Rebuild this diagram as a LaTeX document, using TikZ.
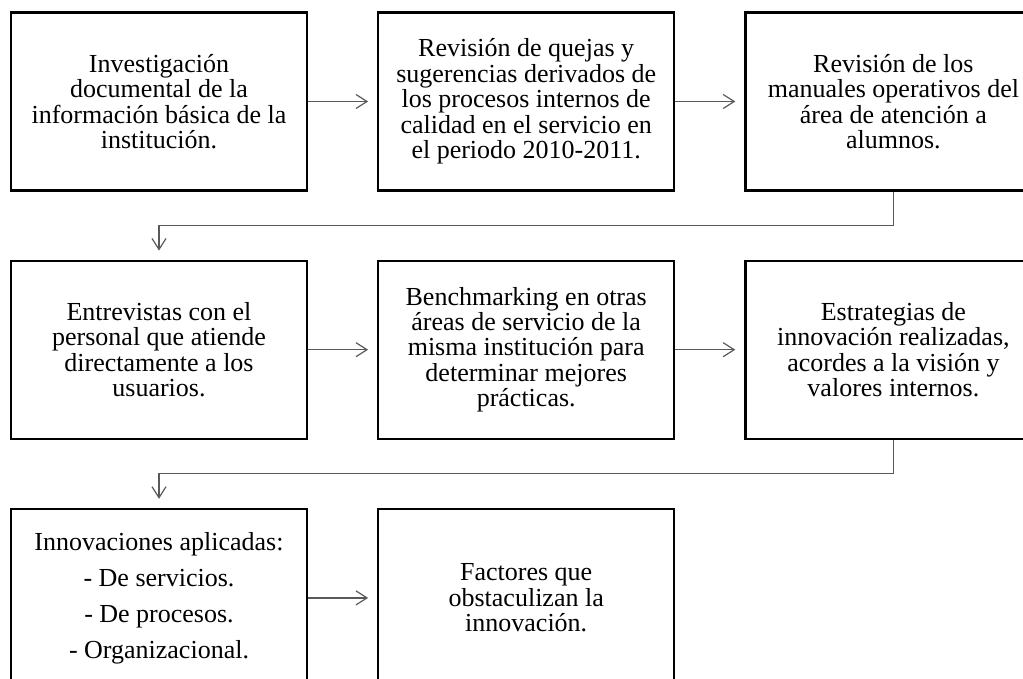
\documentclass[tikz,border=0pt]{standalone}
\usepackage{fontspec}
\setmainfont{Liberation Serif}
\usetikzlibrary{positioning,arrows.meta}

\begin{document}
\begin{tikzpicture}[node distance=34pt and 34.5pt,
  stagebox/.style={draw, line width=1.1pt, minimum width=148pt, minimum height=89pt,
    inner sep=0pt, align=center, font=\fontsize{13}{12.7}\selectfont},
  flowarrow/.style={draw=black!65, line width=0.6pt, shorten >=4.5pt,
    -{Straight Barb[length=5.5pt,width=7pt]}}]
  \useasboundingbox (0,0) rectangle (511.5pt,-339.5pt);
  % first row
  \node[stagebox] (investigacion) at (79.5pt,-50.75pt)
    {Investigación\\documental de la\\información básica de la\\institución.};
  \node[stagebox, right=of investigacion] (quejas)
    {Revisión de quejas y\\sugerencias derivados de\\los procesos internos de\\calidad en el servicio en\\el periodo 2010-2011.};
  \node[stagebox, right=of quejas] (manuales)
    {Revisión de los\\manuales operativos del\\área de atención a\\alumnos.};
  % second row
  \node[stagebox, below=of investigacion] (entrevistas)
    {Entrevistas con el\\personal que atiende\\directamente a los\\usuarios.};
  \node[stagebox, right=of entrevistas] (benchmarking)
    {Benchmarking en otras\\áreas de servicio de la\\misma institución para\\determinar mejores\\prácticas.};
  \node[stagebox, right=of benchmarking] (estrategias)
    {Estrategias de\\innovación realizadas,\\acordes a la visión y\\valores internos.};
  % third row
  \node[stagebox, below=of entrevistas, font=\fontsize{13}{18}\selectfont] (innovaciones)
    {Innovaciones aplicadas:\\- De servicios.\\- De procesos.\\- Organizacional.};
  \node[stagebox, right=of innovaciones] (factores)
    {Factores que\\obstaculizan la\\innovación.};
  % connectors
  \draw[flowarrow] (investigacion) -- (quejas);
  \draw[flowarrow] (quejas) -- (manuales);
  \draw[flowarrow] (manuales.south) -- ++(0,-17pt) -| (entrevistas.north);
  \draw[flowarrow] (entrevistas) -- (benchmarking);
  \draw[flowarrow] (benchmarking) -- (estrategias);
  \draw[flowarrow] (estrategias.south) -- ++(0,-17pt) -| (innovaciones.north);
  \draw[flowarrow] (innovaciones) -- (factores);
\end{tikzpicture}
\end{document}
